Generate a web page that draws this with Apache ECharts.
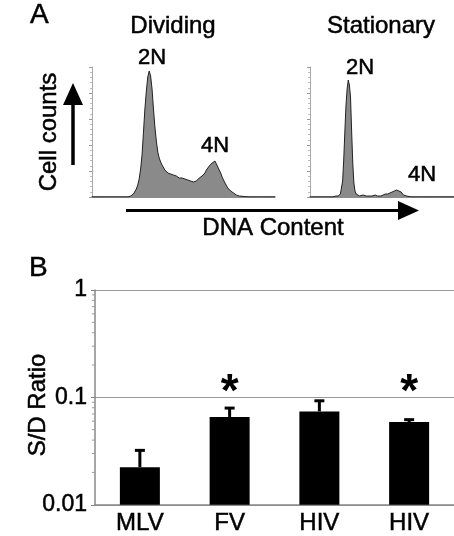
<!DOCTYPE html>
<html>
<head>
<meta charset="utf-8">
<script src="https://cdn.jsdelivr.net/npm/echarts@6/dist/echarts.min.js"></script>
<style>
  html, body { margin: 0; padding: 0; background: #fff; }
  #chart { width: 454px; height: 536px; }
</style>
</head>
<body>
<div id="chart"></div>
<script>
// ---- Panel A: DNA content histograms (channel, cell count) ----
const dividingCounts = [
  [0,0],[10,0],[20,0],[30,0],[40,0],[46,0],[50,0],[52,1],[54,1],[56,1],[58,3],[60,5],[62,8],[64,12],
  [66,18],[68,28],[70,42],[72,65],[74,88],[76,106],[78,120],[80,126],[82,121],[84,108],[86,88],[88,70],
  [90,56],[92,45],[94,39],[96,35],[98,32],[100,30],[102,27],[104,26],[106,24],[108,23],[110,23],[112,21],
  [114,22],[116,20],[118,21],[120,19],[122,19],[124,18],[126,19],[128,17],[130,18],[132,16],[134,17],
  [136,15],[138,16],[140,14],[142,15],[144,16],[146,16],[148,17],[150,19],[152,19],[154,21],[156,23],
  [158,24],[160,27],[162,29],[164,31],[166,32],[168,34],[170,33],[172,36],[174,33],[176,30],[178,27],
  [180,24],[182,20],[184,17],[186,14],[188,12],[190,9],[192,8],[194,6],[196,5],[198,4],[200,3],[202,2],
  [204,1],[206,1],[208,0],[220,0],[240,0],[256,0]
];
const stationaryCounts = [
  [0,0],[20,0],[40,0],[46,1],[50,1],[52,2],[54,3],[56,5],[58,16],[60,38],[62,66],[64,92],[66,108],
  [68,117],[70,112],[72,100],[74,66],[76,34],[78,14],[80,6],[82,3],[84,2],[88,1],[94,2],[100,1],[110,1],
  [116,2],[120,1],[126,1],[130,2],[134,3],[138,3],[142,4],[146,5],[150,6],[154,7],[156,7],[158,6],
  [160,6],[162,5],[164,3],[166,2],[168,1],[172,1],[180,0],[200,0],[220,0],[256,0]
];

// ---- Panel B: S/D ratio bar chart ----
const categories = ['MLV', 'FV', 'HIV', 'HIV'];
const ratioMeans = [0.0224, 0.0657, 0.0740, 0.0590];
const ratioErrors = [0.0097, 0.0138, 0.0189, 0.0030];
const significance = ['', '*', '', '*'];
const starLevel = 0.11;
const minorTickValues = [0.02,0.03,0.04,0.05,0.06,0.07,0.08,0.09,0.2,0.3,0.4,0.5,0.6,0.7,0.8,0.9];

const FONT = '"Liberation Sans", Arial, Helvetica, sans-serif';
const HEAVY = { textBorderColor: '#000', textBorderWidth: 0.5 };

const chart = echarts.init(document.getElementById('chart'), null, { renderer: 'canvas' });

function histX(grid) {
  return {
    type: 'value', gridIndex: grid, min: 0, max: 256,
    axisLine: { show: true, onZero: false, lineStyle: { color: '#666', width: 1.5 } },
    axisTick: { show: false }, axisLabel: { show: false }, splitLine: { show: false }
  };
}
function histY(grid) {
  return {
    type: 'value', gridIndex: grid, min: 0, max: 130, interval: 26,
    axisLine: { show: true, lineStyle: { color: '#aaa', width: 1 } },
    axisTick: { show: true, length: 3, lineStyle: { color: '#999' } },
    minorTick: { show: true, splitNumber: 5, length: 2, lineStyle: { color: '#bbb' } },
    axisLabel: { show: false }, splitLine: { show: false }
  };
}
function histSeries(data, idx) {
  return {
    type: 'line', xAxisIndex: idx, yAxisIndex: idx, data: data,
    showSymbol: false, symbol: 'none', smooth: false,
    lineStyle: { color: '#222', width: 1 },
    areaStyle: { color: '#8a8a8a', opacity: 1 },
    silent: true
  };
}

function txt(x, y, text, size, opts) {
  opts = opts || {};
  return {
    type: 'text', x: x, y: y, rotation: opts.rotation || 0, silent: true,
    style: {
      text: text, x: 0, y: 0, fill: '#000', stroke: '#000', lineWidth: 0.5,
      font: (opts.weight || 'normal') + ' ' + size + 'px ' + FONT,
      textAlign: opts.align || 'center', textVerticalAlign: 'middle'
    }
  };
}

const option = {
  animation: false,
  backgroundColor: '#fff',
  textStyle: { fontFamily: FONT },
  grid: [
    { left: 92, top: 67, width: 183, height: 130 },
    { left: 310, top: 67, width: 183, height: 130 },
    { left: 95, top: 290, width: 384, height: 217 }
  ],
  xAxis: [
    histX(0), histX(1),
    {
      type: 'category', gridIndex: 2, data: categories,
      axisLine: { show: true, lineStyle: { color: '#888', width: 1.5 } },
      axisTick: { show: false },
      axisLabel: Object.assign({ color: '#000', fontSize: 24, fontFamily: FONT, margin: 7 }, HEAVY),
      splitLine: { show: false }
    }
  ],
  yAxis: [
    histY(0), histY(1),
    {
      type: 'log', gridIndex: 2, logBase: 10, min: 0.01, max: 1, startValue: 0.01,
      axisLine: { show: true, lineStyle: { color: '#888', width: 1.5 } },
      axisTick: { show: true, length: 4, lineStyle: { color: '#888' } },
      axisLabel: Object.assign({ color: '#000', fontSize: 23, fontFamily: FONT, margin: 8 }, HEAVY),
      splitLine: { show: true, lineStyle: { color: '#999', width: 1 } }
    }
  ],
  series: [
    histSeries(dividingCounts, 0),
    histSeries(stationaryCounts, 1),
    {
      type: 'bar', xAxisIndex: 2, yAxisIndex: 2, data: ratioMeans,
      barWidth: 40, itemStyle: { color: '#000' }, silent: true
    },
    {
      type: 'custom', xAxisIndex: 2, yAxisIndex: 2, clip: false, silent: true, z: 3,
      data: ratioMeans.map((m, i) => [i, m, m + ratioErrors[i]]),
      renderItem: function (params, api) {
        const lo = api.coord([api.value(0), api.value(1)]);
        const hi = api.coord([api.value(0), api.value(2)]);
        return {
          type: 'group', children: [
            { type: 'line', shape: { x1: lo[0], y1: lo[1], x2: hi[0], y2: hi[1] }, style: { stroke: '#000', lineWidth: 3 } },
            { type: 'line', shape: { x1: hi[0] - 5, y1: hi[1], x2: hi[0] + 5, y2: hi[1] }, style: { stroke: '#000', lineWidth: 3 } }
          ]
        };
      }
    },
    {
      type: 'custom', xAxisIndex: 2, yAxisIndex: 2, clip: false, silent: true, z: 3,
      data: significance.map((s, i) => [i, starLevel, s]).filter(d => d[2] !== ''),
      renderItem: function (params, api) {
        const p = api.coord([api.value(0), api.value(1)]);
        return {
          type: 'text', x: p[0], y: p[1],
          style: { text: '*', fill: '#000', font: 'bold 46px ' + FONT, textAlign: 'center', textVerticalAlign: 'middle' }
        };
      }
    },
    {
      type: 'custom', xAxisIndex: 2, yAxisIndex: 2, clip: false, silent: true, z: 3,
      data: minorTickValues.map(v => [0, v]),
      renderItem: function (params, api) {
        const p = api.coord([0, api.value(1)]);
        const x0 = params.coordSys.x;
        return { type: 'line', shape: { x1: x0 - 3, y1: p[1], x2: x0, y2: p[1] }, style: { stroke: '#999', lineWidth: 1 } };
      }
    }
  ],
  graphic: [
    txt(30, 15, 'A', 28, { align: 'left' }),
    txt(29, 268, 'B', 28, { align: 'left' }),
    txt(173, 26.5, 'Dividing', 24),
    txt(381, 26.5, 'Stationary', 24),
    txt(152, 57.5, '2N', 22),
    txt(215, 145.5, '4N', 22),
    txt(360, 67.5, '2N', 22),
    txt(422, 174.5, '4N', 22),
    txt(273, 228.5, 'DNA Content', 24),
    txt(49, 132, 'Cell counts', 24, { rotation: Math.PI / 2 }),
    txt(38, 405, 'S/D Ratio', 24, { rotation: Math.PI / 2 }),
    { type: 'line', silent: true, shape: { x1: 73, y1: 165, x2: 73, y2: 104 }, style: { stroke: '#000', lineWidth: 3.5 } },
    { type: 'polygon', silent: true, shape: { points: [[63, 105], [83, 105], [73, 83]] }, style: { fill: '#000' } },
    { type: 'line', silent: true, shape: { x1: 126, y1: 210.5, x2: 400, y2: 210.5 }, style: { stroke: '#000', lineWidth: 3 } },
    { type: 'polygon', silent: true, shape: { points: [[398, 201], [398, 220], [419, 210.5]] }, style: { fill: '#000' } }
  ]
};

chart.setOption(option);
</script>
</body>
</html>
